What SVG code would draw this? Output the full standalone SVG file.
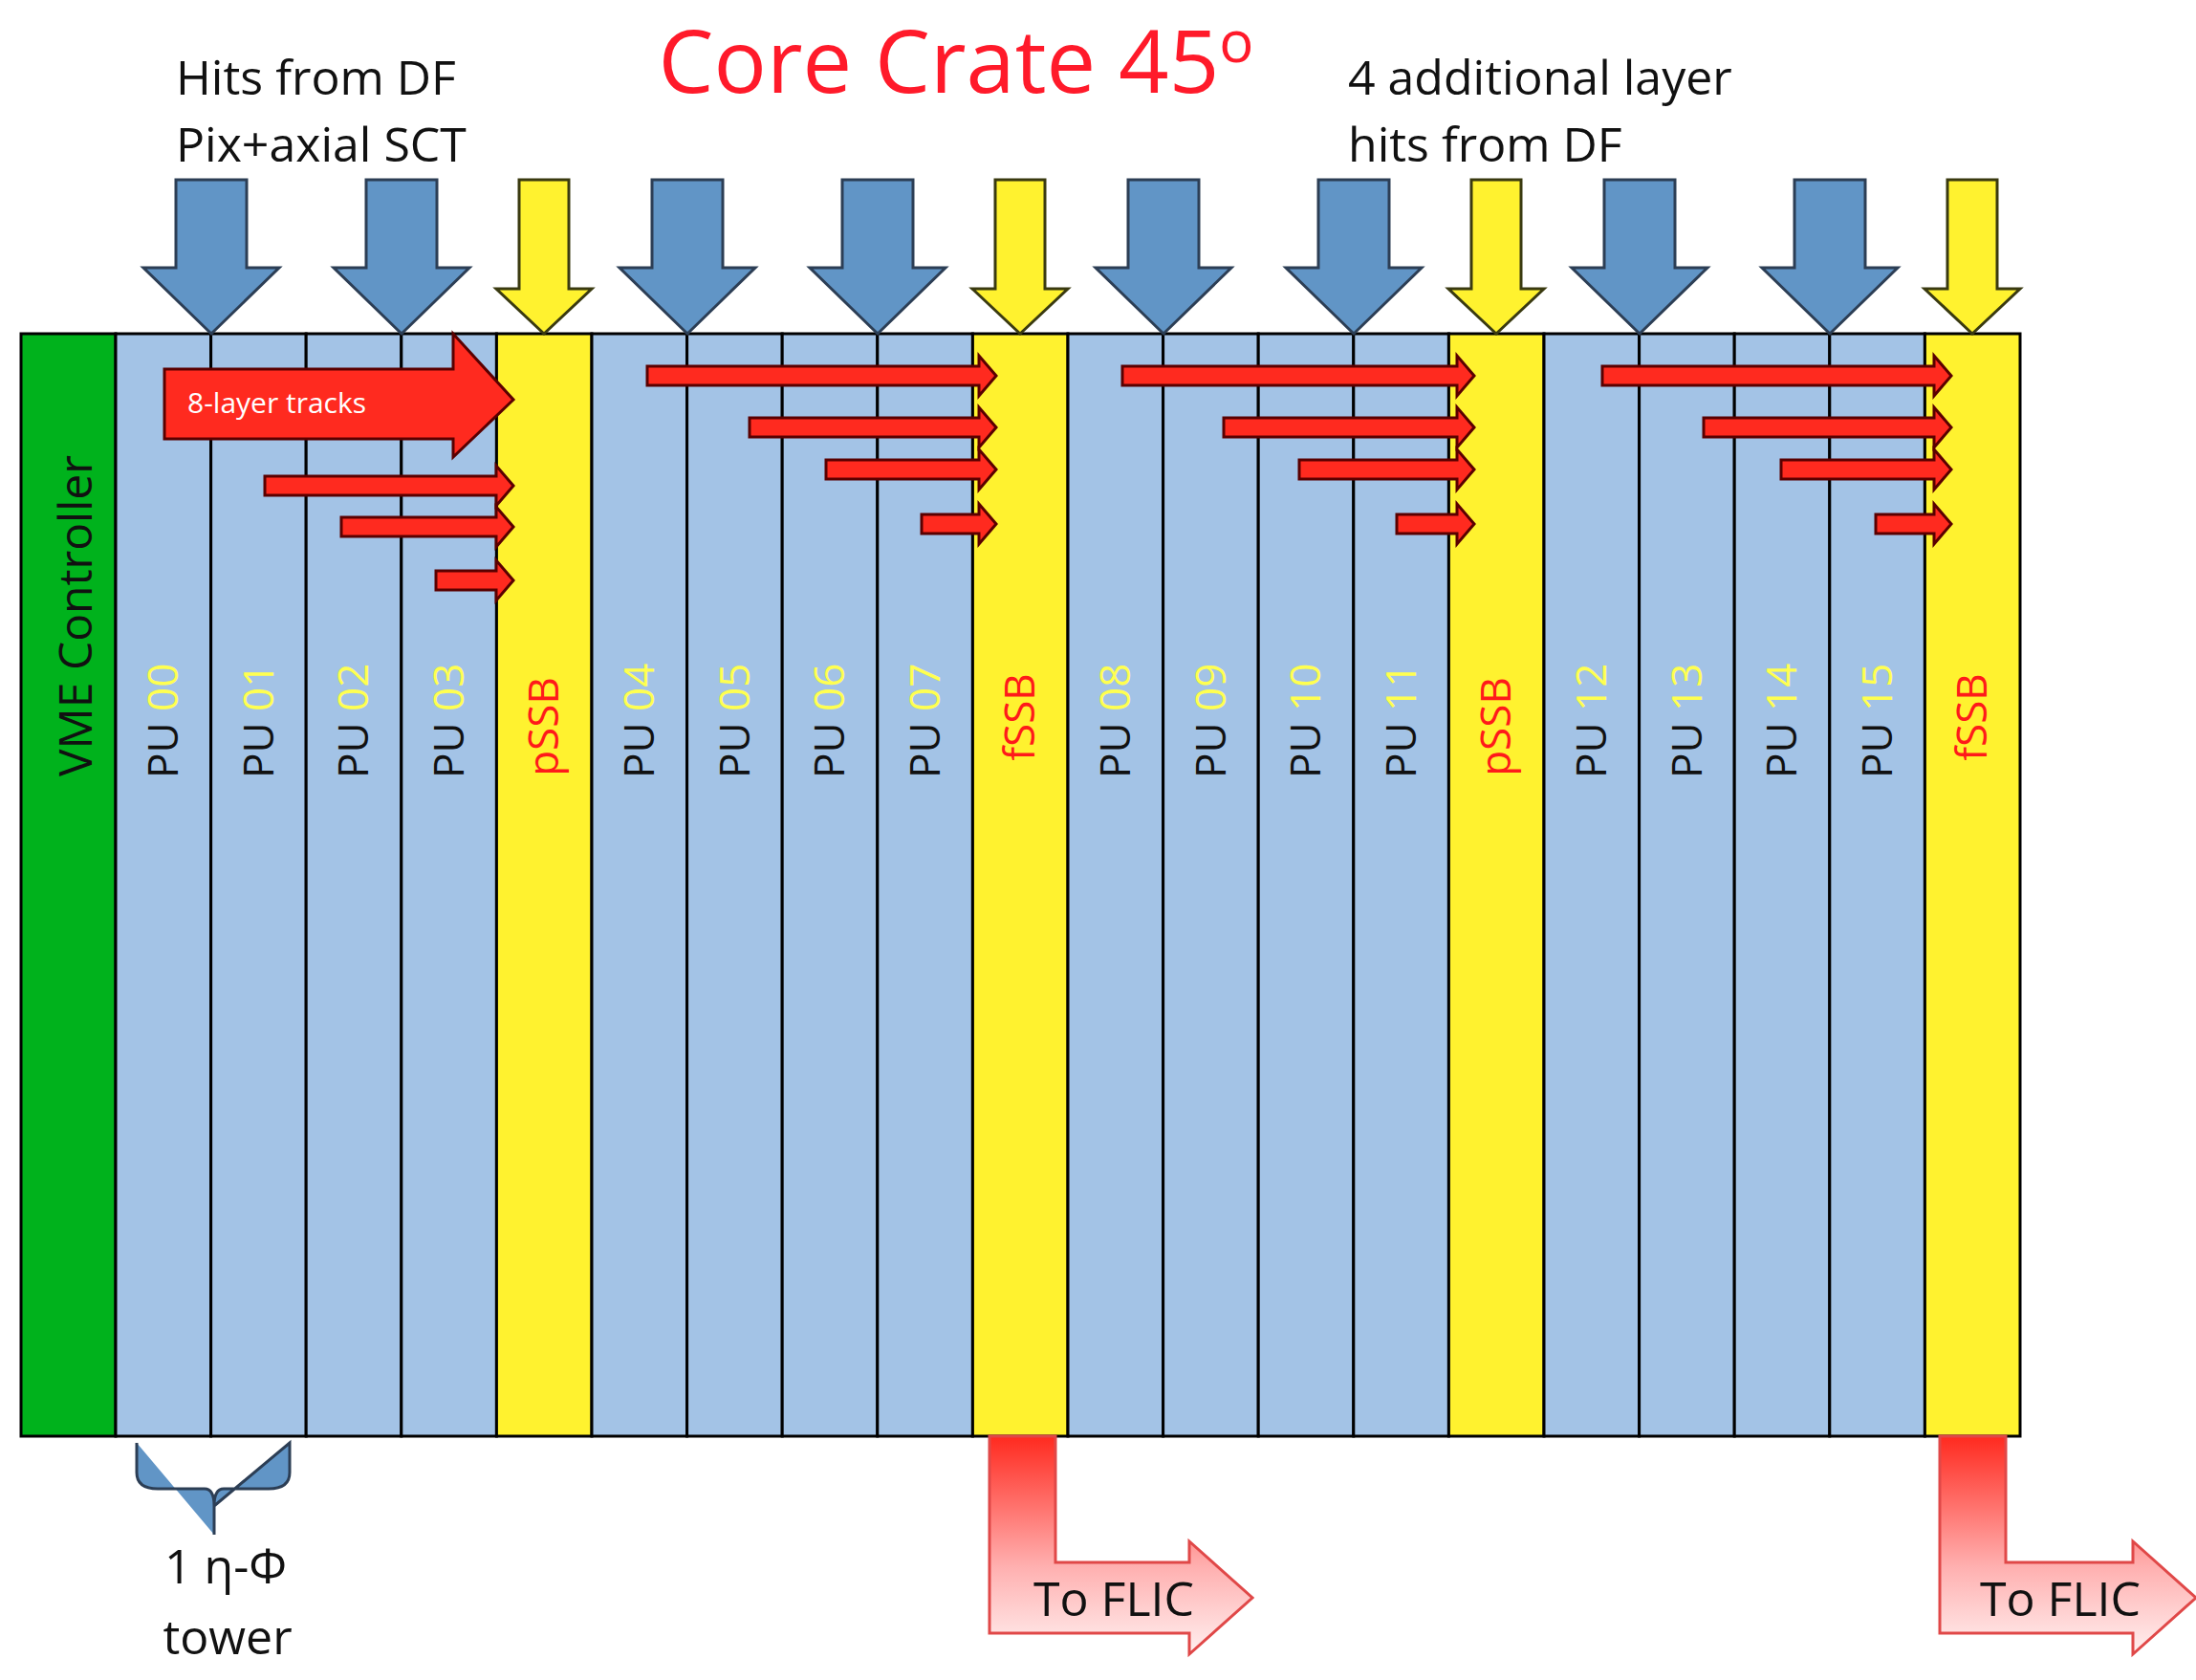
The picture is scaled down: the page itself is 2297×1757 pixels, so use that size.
<svg xmlns="http://www.w3.org/2000/svg" width="2297" height="1757" viewBox="0 0 2297 1757">
<defs>
<linearGradient id="flic" x1="0" y1="0" x2="0" y2="1"><stop offset="0" stop-color="#ff2a1f"/><stop offset="0.6" stop-color="#ffb0b0"/><stop offset="1" stop-color="#fff0f0"/></linearGradient>
</defs>
<style>
text{font-family:"Open Sans","Liberation Sans",sans-serif}
.col{fill:#a3c3e6;stroke:#000;stroke-width:3}
.ssb{fill:#fff22f;stroke:#000;stroke-width:3}
.barr{fill:#6195c6;stroke:#2c3e55;stroke-width:3}
.yarr{fill:#fff22f;stroke:#3a3a10;stroke-width:3}
.rarr{fill:#ff2a1f;stroke:#5a0000;stroke-width:3}
.lab{font-size:44px;fill:#111}
.yl{fill:#ffff50}
.sl{font-size:44px;fill:#ff1a1a}
.note{font-size:50px;fill:#111}
</style>
<rect width="2297" height="1757" fill="#fff"/>
<text x="1000" y="97" font-size="92" fill="#ff1a2a" text-anchor="middle">Core Crate 45<tspan font-size="60" dy="-32">o</tspan></text>
<text class="note" x="184" y="99">Hits from DF</text>
<text class="note" x="184" y="169">Pix+axial SCT</text>
<text class="note" x="1410" y="99">4 additional layer</text>
<text class="note" x="1410" y="169">hits from DF</text>
<g id="vme"><rect x="22" y="349" width="99" height="1153" fill="#00b21c" stroke="#000" stroke-width="3"/>
<text transform="translate(96,812) rotate(-90)" font-size="48" fill="#111">VME Controller</text></g>
<g id="pu00"><rect class="col" x="121" y="349" width="99.6" height="1153"/><text class="lab" transform="translate(186,814) rotate(-90)">PU <tspan class="yl">00</tspan></text></g>
<g id="pu01"><rect class="col" x="220.6" y="349" width="99.6" height="1153"/><text class="lab" transform="translate(286,814) rotate(-90)">PU <tspan class="yl">01</tspan></text></g>
<g id="pu02"><rect class="col" x="320.2" y="349" width="99.6" height="1153"/><text class="lab" transform="translate(385,814) rotate(-90)">PU <tspan class="yl">02</tspan></text></g>
<g id="pu03"><rect class="col" x="419.8" y="349" width="99.6" height="1153"/><text class="lab" transform="translate(485,814) rotate(-90)">PU <tspan class="yl">03</tspan></text></g>
<g id="pssb1"><rect class="ssb" x="519.4" y="349" width="99.6" height="1153"/><text class="sl" transform="translate(584,760) rotate(-90)" text-anchor="middle">pSSB</text></g>
<g id="pu04"><rect class="col" x="619" y="349" width="99.6" height="1153"/><text class="lab" transform="translate(684,814) rotate(-90)">PU <tspan class="yl">04</tspan></text></g>
<g id="pu05"><rect class="col" x="718.6" y="349" width="99.6" height="1153"/><text class="lab" transform="translate(784,814) rotate(-90)">PU <tspan class="yl">05</tspan></text></g>
<g id="pu06"><rect class="col" x="818.2" y="349" width="99.6" height="1153"/><text class="lab" transform="translate(883,814) rotate(-90)">PU <tspan class="yl">06</tspan></text></g>
<g id="pu07"><rect class="col" x="917.8" y="349" width="99.6" height="1153"/><text class="lab" transform="translate(983,814) rotate(-90)">PU <tspan class="yl">07</tspan></text></g>
<g id="fssb1"><rect class="ssb" x="1017.4" y="349" width="99.6" height="1153"/><text class="sl" transform="translate(1082,750) rotate(-90)" text-anchor="middle">fSSB</text></g>
<g id="pu08"><rect class="col" x="1117" y="349" width="99.6" height="1153"/><text class="lab" transform="translate(1182,814) rotate(-90)">PU <tspan class="yl">08</tspan></text></g>
<g id="pu09"><rect class="col" x="1216.6" y="349" width="99.6" height="1153"/><text class="lab" transform="translate(1282,814) rotate(-90)">PU <tspan class="yl">09</tspan></text></g>
<g id="pu10"><rect class="col" x="1316.2" y="349" width="99.6" height="1153"/><text class="lab" transform="translate(1381,814) rotate(-90)">PU <tspan class="yl">10</tspan></text></g>
<g id="pu11"><rect class="col" x="1415.8" y="349" width="99.6" height="1153"/><text class="lab" transform="translate(1481,814) rotate(-90)">PU <tspan class="yl">11</tspan></text></g>
<g id="pssb2"><rect class="ssb" x="1515.4" y="349" width="99.6" height="1153"/><text class="sl" transform="translate(1580,760) rotate(-90)" text-anchor="middle">pSSB</text></g>
<g id="pu12"><rect class="col" x="1615" y="349" width="99.6" height="1153"/><text class="lab" transform="translate(1680,814) rotate(-90)">PU <tspan class="yl">12</tspan></text></g>
<g id="pu13"><rect class="col" x="1714.6" y="349" width="99.6" height="1153"/><text class="lab" transform="translate(1780,814) rotate(-90)">PU <tspan class="yl">13</tspan></text></g>
<g id="pu14"><rect class="col" x="1814.2" y="349" width="99.6" height="1153"/><text class="lab" transform="translate(1879,814) rotate(-90)">PU <tspan class="yl">14</tspan></text></g>
<g id="pu15"><rect class="col" x="1913.8" y="349" width="99.6" height="1153"/><text class="lab" transform="translate(1979,814) rotate(-90)">PU <tspan class="yl">15</tspan></text></g>
<g id="fssb2"><rect class="ssb" x="2013.4" y="349" width="99.6" height="1153"/><text class="sl" transform="translate(2078,750) rotate(-90)" text-anchor="middle">fSSB</text></g>
<g id="connectors">
<g id="inputs">
<polygon class="barr" transform="translate(221,0)" points="-37,188 37,188 37,280 71,280 0,349 -71,280 -37,280"/>
<polygon class="barr" transform="translate(420,0)" points="-37,188 37,188 37,280 71,280 0,349 -71,280 -37,280"/>
<polygon class="barr" transform="translate(719,0)" points="-37,188 37,188 37,280 71,280 0,349 -71,280 -37,280"/>
<polygon class="barr" transform="translate(918,0)" points="-37,188 37,188 37,280 71,280 0,349 -71,280 -37,280"/>
<polygon class="barr" transform="translate(1217,0)" points="-37,188 37,188 37,280 71,280 0,349 -71,280 -37,280"/>
<polygon class="barr" transform="translate(1416,0)" points="-37,188 37,188 37,280 71,280 0,349 -71,280 -37,280"/>
<polygon class="barr" transform="translate(1715,0)" points="-37,188 37,188 37,280 71,280 0,349 -71,280 -37,280"/>
<polygon class="barr" transform="translate(1914,0)" points="-37,188 37,188 37,280 71,280 0,349 -71,280 -37,280"/>
<polygon class="yarr" transform="translate(569,0)" points="-26,188 26,188 26,302 50,302 0,349 -50,302 -26,302"/>
<polygon class="yarr" transform="translate(1067,0)" points="-26,188 26,188 26,302 50,302 0,349 -50,302 -26,302"/>
<polygon class="yarr" transform="translate(1565,0)" points="-26,188 26,188 26,302 50,302 0,349 -50,302 -26,302"/>
<polygon class="yarr" transform="translate(2063,0)" points="-26,188 26,188 26,302 50,302 0,349 -50,302 -26,302"/>
</g>
<g id="tracks">
<polygon class="rarr" points="172,386 474,386 474,349 537,418 474,478 474,459 172,459"/>
<text x="196" y="432" font-size="30" fill="#fff" font-family="Liberation Sans Narrow,Liberation Sans,sans-serif">8-layer tracks</text>
<path class="rarr" d="M277,498H519V487L537,508L519,529V518H277Z"/>
<path class="rarr" d="M357,541H519V530L537,551L519,572V561H357Z"/>
<path class="rarr" d="M456,597H519V586L537,607L519,628V617H456Z"/>
<path class="rarr" d="M677,383H1024V372L1042,393L1024,414V403H677Z"/>
<path class="rarr" d="M784,437H1024V426L1042,447L1024,468V457H784Z"/>
<path class="rarr" d="M864,481H1024V470L1042,491L1024,512V501H864Z"/>
<path class="rarr" d="M964,538H1024V527L1042,548L1024,569V558H964Z"/>
<path class="rarr" d="M1174,383H1524V372L1542,393L1524,414V403H1174Z"/>
<path class="rarr" d="M1280,437H1524V426L1542,447L1524,468V457H1280Z"/>
<path class="rarr" d="M1359,481H1524V470L1542,491L1524,512V501H1359Z"/>
<path class="rarr" d="M1461,538H1524V527L1542,548L1524,569V558H1461Z"/>
<path class="rarr" d="M1676,383H2023V372L2041,393L2023,414V403H1676Z"/>
<path class="rarr" d="M1782,437H2023V426L2041,447L2023,468V457H1782Z"/>
<path class="rarr" d="M1863,481H2023V470L2041,491L2023,512V501H1863Z"/>
<path class="rarr" d="M1962,538H2023V527L2041,548L2023,569V558H1962Z"/>
</g>
<g id="outputs">
<polygon points="1035,1502 1104,1502 1104,1634 1244,1634 1244,1612 1310,1671 1244,1730 1244,1708 1035,1708" fill="url(#flic)" stroke="#e04848" stroke-width="3"/>
<text x="1081" y="1690" font-size="50" fill="#111">To FLIC</text>
<polygon points="2029,1502 2098,1502 2098,1634 2231,1634 2231,1612 2297,1671 2231,1730 2231,1708 2029,1708" fill="url(#flic)" stroke="#e04848" stroke-width="3"/>
<text x="2071" y="1690" font-size="50" fill="#111">To FLIC</text>
</g>
</g>
<g id="tower">
<path d="M143,1509 V1540 Q143,1557 165,1557 H214 Q224,1557 224,1575 V1605 M224,1575 Q224,1557 234,1557 H281 Q303,1557 303,1540 V1509 Z" fill="#6195c6" stroke="#2c3e55" stroke-width="3"/>
<text class="note" x="236" y="1656" text-anchor="middle">1 η-Φ</text>
<text class="note" x="238" y="1730" text-anchor="middle">tower</text>
</g>
</svg>
